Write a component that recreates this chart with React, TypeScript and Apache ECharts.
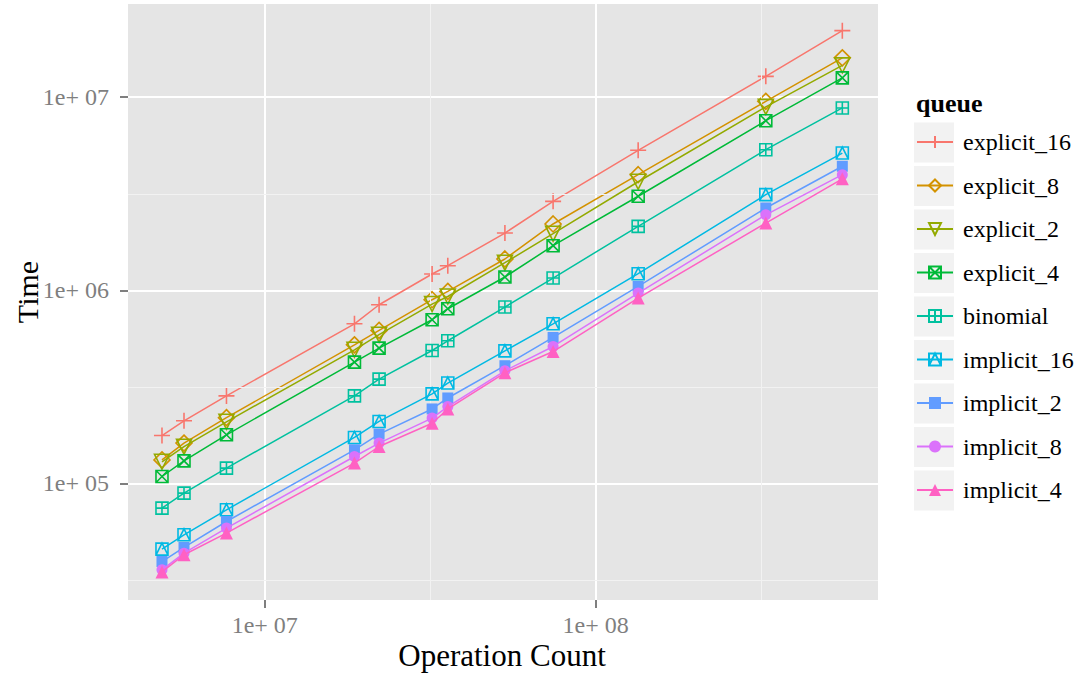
import React, { useEffect, useRef } from "react";
import * as echarts from "echarts";

const seriesNames = [
  "explicit_16", "explicit_8", "explicit_2", "explicit_4", "binomial",
  "implicit_16", "implicit_2", "implicit_8", "implicit_4",
];
const colors = ["#F8766D", "#D39200", "#93AA00", "#00BA38", "#00C19F", "#00B9E3", "#619CFF", "#DB72FB", "#FF61C3"];

const opCounts = [4.89e6, 5.70e6, 7.66e6, 1.867e7, 2.216e7, 3.205e7, 3.575e7, 5.32e7, 7.44e7, 1.345e8, 3.27e8, 5.57e8];

const explicit16 = [1.77e5, 2.11e5, 2.84e5, 6.71e5, 8.42e5, 1.215e6, 1.341e6, 1.98e6, 2.89e6, 5.31e6, 1.283e7, 2.213e7];
const explicit8 = [1.324e5, 1.618e5, 2.19e5, 5.22e5, 6.20e5, 8.94e5, 9.87e5, 1.453e6, 2.206e6, 3.97e6, 9.52e6, 1.60e7];
const explicit2 = [1.294e5, 1.549e5, 2.085e5, 4.92e5, 5.89e5, 8.49e5, 9.29e5, 1.390e6, 1.964e6, 3.65e6, 8.91e6, 1.463e7];
const explicit4 = [1.086e5, 1.309e5, 1.786e5, 4.25e5, 5.02e5, 7.04e5, 8.03e5, 1.172e6, 1.703e6, 3.07e6, 7.56e6, 1.259e7];
const binomial = [7.45e4, 8.91e4, 1.2e5, 2.84e5, 3.47e5, 4.88e5, 5.48e5, 8.19e5, 1.158e6, 2.143e6, 5.35e6, 8.8e6];
const implicit16 = [4.57e4, 5.42e4, 7.3e4, 1.73e5, 2.094e5, 2.91e5, 3.31e5, 4.86e5, 6.71e5, 1.219e6, 3.13e6, 5.14e6];
const implicit2 = [3.94e4, 4.66e4, 6.35e4, 1.493e5, 1.8e5, 2.43e5, 2.77e5, 4.07e5, 5.7e5, 1.047e6, 2.67e6, 4.39e6];
const implicit8 = [3.57e4, 4.35e4, 5.87e4, 1.378e5, 1.618e5, 2.18e5, 2.5e5, 3.83e5, 5.12e5, 9.68e5, 2.46e6, 3.97e6];
const implicit4 = [3.48e4, 4.27e4, 5.53e4, 1.274e5, 1.553e5, 2.05e5, 2.43e5, 3.74e5, 4.82e5, 9.12e5, 2.23e6, 3.78e6];

const allValues = [explicit16, explicit8, explicit2, explicit4, binomial, implicit16, implicit2, implicit8, implicit4];

const xTickValues = [1e7, 1e8];
const xTickLabels = ["1e+ 07", "1e+ 08"];
const yTickValues = [1e5, 1e6, 1e7];
const yTickLabels = ["1e+ 05", "1e+ 06", "1e+ 07"];
const xMinorValues = [3.1623e7, 3.1623e8];
const yMinorValues = [31623, 316228, 3162278];

const X_MIN = 3.86e6, X_MAX = 7.14e8, Y_MIN = 2.49e4, Y_MAX = 3.04e7;

const FONT = "'Liberation Serif', 'DejaVu Serif', serif";

const symbols = [
  "path://M0,-10 L0,10 M-10,0 L10,0",
  "path://M0,-10 L10,0 L0,10 L-10,0 Z",
  "path://M-10,-6 L10,-6 L0,11 Z",
  "path://M-10,-10 L10,-10 L10,10 L-10,10 Z M-10,-10 L10,10 M10,-10 L-10,10",
  "path://M-10,-10 L10,-10 L10,10 L-10,10 Z M0,-10 L0,10 M-10,0 L10,0",
  "path://M-10,-10 L10,-10 L10,10 L-10,10 Z M-10,10 L0,-10 L10,10",
  "rect",
  "circle",
  "triangle",
];
const symbolSizes = [16, 16, 15, 12, 12, 12, 11, 11, 13];
const openShape = [true, true, true, true, true, true, false, false, false];

export default function App() {
  const ref = useRef<HTMLDivElement>(null);
  useEffect(() => {
    document.body.style.margin = "0";
    const chart = echarts.init(ref.current!, null, { renderer: "svg" });
    const series: any[] = seriesNames.map((name, i) => ({
      name,
      type: "line",
      data: opCounts.map((x, j) => [x, allValues[i][j]]),
      symbol: symbols[i],
      symbolSize: symbolSizes[i],
      showSymbol: true,
      lineStyle: { color: colors[i], width: 1.5 },
      itemStyle: openShape[i]
        ? { color: "rgba(0,0,0,0)", borderColor: colors[i], borderWidth: 1.6 }
        : { color: colors[i], borderWidth: 0 },
      z: 3 + i,
      emphasis: { disabled: true },
    }));
    series.push({
      name: "__minor",
      type: "line",
      data: [],
      z: 1,
      silent: true,
      markLine: {
        silent: true,
        symbol: "none",
        label: { show: false },
        lineStyle: { color: "#F2F2F2", width: 1, type: "solid" },
        data: [
          ...xMinorValues.map((v) => ({ xAxis: v })),
          ...yMinorValues.map((v) => ({ yAxis: v })),
        ],
      },
    });
    chart.setOption({
      animation: false,
      backgroundColor: "#FFFFFF",
      grid: {
        left: 128,
        right: 208,
        top: 4,
        bottom: 77,
        show: true,
        backgroundColor: "#E5E5E5",
        borderWidth: 0,
      },
      xAxis: {
        type: "log",
        logBase: 10,
        min: X_MIN,
        max: X_MAX,
        axisLine: { show: false },
        axisTick: {
          show: true,
          length: 8,
          customValues: xTickValues,
          lineStyle: { color: "#7F7F7F", width: 2 },
        },
        axisLabel: {
          customValues: xTickValues,
          margin: 13,
          color: "#7F7F7F",
          fontFamily: FONT,
          fontSize: 24,
          formatter: (v: number) => {
            const k = xTickValues.findIndex((t) => Math.abs(t - v) / t < 1e-6);
            return k >= 0 ? xTickLabels[k] : "";
          },
        },
        splitLine: { show: true, lineStyle: { color: "#FFFFFF", width: 2 } },
        minorSplitLine: { show: false },
      },
      yAxis: {
        type: "log",
        logBase: 10,
        min: Y_MIN,
        max: Y_MAX,
        axisLine: { show: false },
        axisTick: {
          show: true,
          length: 8,
          customValues: yTickValues,
          lineStyle: { color: "#7F7F7F", width: 2 },
        },
        axisLabel: {
          customValues: yTickValues,
          margin: 19,
          color: "#7F7F7F",
          fontFamily: FONT,
          fontSize: 24,
          formatter: (v: number) => {
            const k = yTickValues.findIndex((t) => Math.abs(t - v) / t < 1e-6);
            return k >= 0 ? yTickLabels[k] : "";
          },
        },
        splitLine: { show: true, lineStyle: { color: "#FFFFFF", width: 2 } },
      },
      legend: {
        orient: "vertical",
        left: 916,
        top: 122,
        padding: 0,
        itemWidth: 36,
        itemHeight: 15,
        itemGap: 3.5,
        data: seriesNames,
        selectedMode: false,
        textStyle: {
          fontFamily: FONT,
          fontSize: 24,
          color: "#000000",
          lineHeight: 40,
          padding: [0, 0, 0, 5],
        },
      },
      graphic: [
        ...seriesNames.map((_, i) => ({
          type: "rect",
          left: 914,
          top: 122.5 + 43.5 * i,
          shape: { width: 40, height: 40 },
          style: { fill: "#F2F2F2" },
          z: -1,
          silent: true,
        })),
        {
          type: "text",
          x: 916,
          y: 103,
          style: {
            text: "queue",
            font: `bold 26px ${FONT}`,
            fill: "#000000",
            textAlign: "left",
            textVerticalAlign: "middle",
          },
        },
        {
          type: "text",
          x: 502,
          y: 655,
          style: {
            text: "Operation Count",
            font: `31px ${FONT}`,
            fill: "#000000",
            textAlign: "center",
            textVerticalAlign: "middle",
          },
        },
        {
          type: "text",
          x: 27,
          y: 292,
          rotation: Math.PI / 2,
          style: {
            text: "Time",
            font: `30px ${FONT}`,
            fill: "#000000",
            textAlign: "center",
            textVerticalAlign: "middle",
          },
        },
      ],
      series,
    });
    return () => chart.dispose();
  }, []);
  return <div ref={ref} style={{ width: 1086, height: 677 }} />;
}
